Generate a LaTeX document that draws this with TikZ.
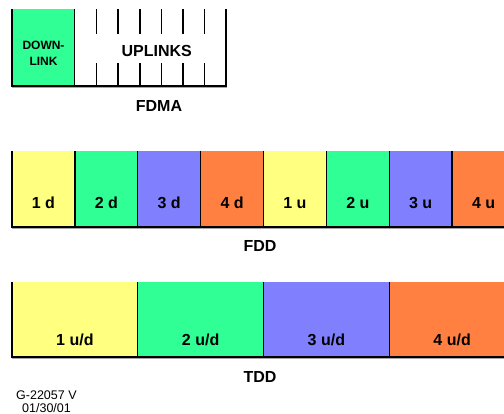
\documentclass[tikz,border=0pt]{standalone}
\usepackage{fontspec}
\setmainfont{Liberation Sans}
\definecolor{cyel}{RGB}{255,255,128}
\definecolor{cgrn}{RGB}{48,255,150}
\definecolor{cblu}{RGB}{128,128,255}
\definecolor{corg}{RGB}{255,128,64}
\begin{document}
\begin{tikzpicture}[x=1pt,y=-1pt,
  frame/.style={line width=1.3pt,black},
  thin/.style={line width=1.1pt,black},
  shadow/.style={line width=1pt,black!35},
  lbl/.style={font=\bfseries\fontsize{16}{16}\selectfont, anchor=base, inner sep=0pt},
  small/.style={font=\bfseries\fontsize{12}{12}\selectfont, anchor=base, inner sep=0pt},
  note/.style={font=\fontsize{12.5}{12.5}\selectfont, anchor=base west, inner sep=0pt}]
\useasboundingbox (0,0) rectangle (504,414);
\begin{scope}
\clip (0,0) rectangle (504,414);
% ---------------- FDMA ----------------
\fill[cgrn] (12,9.5) rectangle (74.5,86);
\foreach \x in {96.5,118,140,161.5,183,204.5}
  \draw[thin] (\x,9.5) -- (\x,86);
\fill[white] (92,34.5) rectangle (208.5,63.5);
\draw[shadow] (12,87.8) -- (226.5,87.8);
\draw[frame] (12,9.5) -- (12,86) -- (226,86) -- (226,9.5);
\draw[frame] (74.5,9.5) -- (74.5,86);
\node[small] (dl1) at (43.5,50) {DOWN-};
\node[small] (dl2) at (43.5,66) {LINK};
\node[lbl] (upl) at (156.7,56.5) {UPLINKS};
\node[lbl] (fdma) at (159,111.5) {FDMA};
% ---------------- FDD ----------------
\foreach \i/\c/\t in {0/cyel/1 d,1/cgrn/2 d,2/cblu/3 d,3/corg/4 d,4/cyel/1 u,5/cgrn/2 u,6/cblu/3 u,7/corg/4 u}{
  \fill[\c] ({12+\i*62.875},151) rectangle ({12+(\i+1)*62.875},227);
  \node[lbl] (fdd\i) at ({12+(\i+0.5)*62.875},209) {\t};
}
\draw[shadow] (12,228.8) -- (515,228.8);
\draw[frame] (12,151) -- (12,227) -- (515,227);
\foreach \i in {1,...,7}
  \draw[frame] ({12+\i*62.875},151) -- ({12+\i*62.875},227);
\node[lbl] (fdd) at (260,252) {FDD};
% ---------------- TDD ----------------
\foreach \i/\c/\t in {0/cyel/{1 u/d},1/cgrn/{2 u/d},2/cblu/{3 u/d},3/corg/{4 u/d}}{
  \fill[\c] ({12+\i*125.75},282) rectangle ({12+(\i+1)*125.75},357);
  \node[lbl] (tdd\i) at ({12+(\i+0.5)*125.75},346) {\t};
}
\draw[shadow] (12,358.8) -- (515,358.8);
\draw[frame] (12,282) -- (12,357) -- (515,357);
\foreach \i in {1,2,3}
  \draw[frame] ({12+\i*125.75},282) -- ({12+\i*125.75},357);
\node[lbl] (tdd) at (260,383) {TDD};
% ---------------- note ----------------
\node[note] (g1) at (16,399.3) {G-22057 V};
\node[note] (g2) at (22,412.7) {01/30/01};
\end{scope}
\end{tikzpicture}
\end{document}
